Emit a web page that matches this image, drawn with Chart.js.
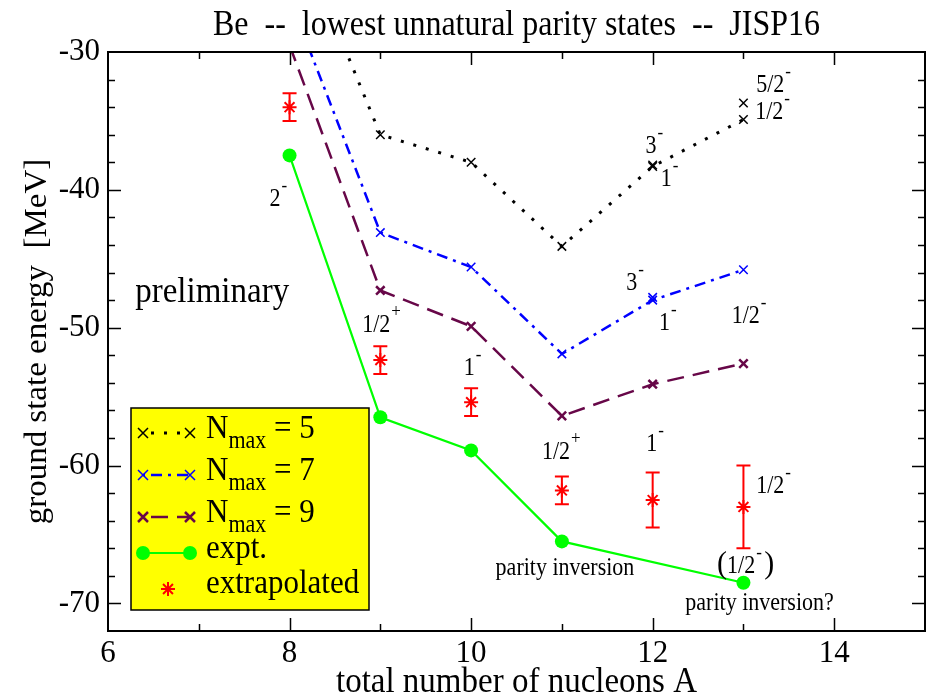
<!DOCTYPE html>
<html>
<head>
<meta charset="utf-8">
<script src="https://cdn.jsdelivr.net/npm/chart.js@4/dist/chart.umd.min.js"></script>
<style>
  html, body { margin: 0; padding: 0; background: #ffffff; }
  canvas { display: block; }
</style>
</head>
<body>
<canvas id="chart" width="934" height="696"></canvas>
<script>
// Mass numbers of the Be isotopes
const massNumbers = [8, 9, 10, 11, 12, 13];

// Lowest unnatural-parity state energies (MeV), JISP16, per basis truncation
const nmax5 = [-20.0, -36.0, -38.0, -44.1, -38.3, -34.9];
const nmax7 = [-26.1, -43.1, -45.6, -51.9, -48.0, -45.8];
const nmax9 = [-29.5, -47.3, -49.9, -56.4, -54.1, -52.6];

// Nearly degenerate companion states (shown as markers only)
const nmax5ExtraA = [12, 13];
const nmax5ExtraE = [-38.2, -33.7];
const nmax7ExtraA = [12];
const nmax7ExtraE = [-47.8];

// Experimental energies
const exptA = [8, 9, 10, 11, 13];
const exptE = [-37.5, -56.5, -58.9, -65.5, -68.5];

// Extrapolated energies and their uncertainties (MeV)
const extrapE = [-34.0, -52.35, -55.4, -61.8, -62.5, -63.0];
const extrapErr = [1.0, 1.0, 1.0, 1.0, 2.0, 3.0];

// Axis ranges and tick steps
const xRange = [6, 15];
const yRange = [-72, -30];
const xTickStep = 2;
const yTickStep = 10;

// Spin-parity annotations, anchored in data units (A, MeV)
const stateLabels = [
  { text: '2',   sup: '-', a: 7.78,  e: -41.17 },
  { text: '5/2', sup: '-', a: 13.14, e: -32.9 },
  { text: '1/2', sup: '-', a: 13.13, e: -34.86 },
  { text: '3',   sup: '-', a: 11.92, e: -37.32 },
  { text: '1',   sup: '-', a: 12.09, e: -39.72 },
  { text: '3',   sup: '-', a: 11.71, e: -47.26 },
  { text: '1',   sup: '-', a: 12.07, e: -50.16 },
  { text: '1/2', sup: '-', a: 12.87, e: -49.65 },
  { text: '1/2', sup: '+', a: 8.80,  e: -50.30 },
  { text: '1',   sup: '-', a: 9.92,  e: -53.42 },
  { text: '1/2', sup: '+', a: 10.78, e: -59.51 },
  { text: '1',   sup: '-', a: 11.93, e: -58.93 },
  { text: '1/2', sup: '-', a: 13.14, e: -61.98 }
];
const notes = [
  { text: 'parity inversion',  a: 10.27, e: -67.93, size: 22 },
  { text: 'parity inversion?', a: 12.36, e: -70.46, size: 22 },
  { text: 'preliminary',       a: 6.30,  e: -48.13, size: 33 }
];
const bracketLabel = { text: '1/2', sup: '-', a: 12.82, e: -67.78 };

const titleText = 'Be  --  lowest unnatural parity states  --  JISP16';
const xTitle = 'total number of nucleons A';
const yTitle = 'ground state energy  [MeV]';

const serif = "'Liberation Serif', 'Times New Roman', serif";
const TEXT_STRETCH = 1.1;

const COLORS = {
  n5: '#000000',
  n7: '#0000ff',
  n9: '#670748',
  expt: '#00ff00',
  extrap: '#ff0000'
};
const DASH = {
  n5: [3, 10],
  n7: [11, 6, 3, 6],
  n9: [17, 9]
};
const LINE_WIDTH = { n5: 3, n7: 2.5, n9: 2.5 };

const pts = (xs, ys) => xs.map((x, i) => ({ x, y: ys[i] }));

function drawText(ctx, str, x, y, size, opts = {}) {
  ctx.save();
  ctx.font = `${size}px ${serif}`;
  ctx.textAlign = opts.align || 'left';
  ctx.textBaseline = 'alphabetic';
  ctx.fillStyle = opts.color || '#000';
  ctx.translate(x, y);
  if (opts.rotate) ctx.rotate(opts.rotate);
  const sx = opts.sx || 1;
  const sy = opts.sy || TEXT_STRETCH;
  ctx.scale(sx, sy);
  ctx.fillText(str, 0, 0);
  const w = ctx.measureText(str).width * sx;
  ctx.restore();
  return w;
}

function drawWithSup(ctx, text, sup, x, y) {
  const w = drawText(ctx, text, x, y, 22);
  drawText(ctx, sup, x + w + 1, y - 15, 17);
  return w + 1 + (sup === '+' ? 10 : 6);
}

// Frame with inward major and minor ticks on all four sides
const framePlugin = {
  id: 'frame',
  afterDatasetsDraw(chart) {
    const { ctx, chartArea: ca, scales: { x, y } } = chart;
    ctx.save();
    ctx.strokeStyle = '#000';
    ctx.lineWidth = 1.5;
    ctx.beginPath();
    for (let a = xRange[0] + 1; a < xRange[1]; a += 1) {
      const px = Math.round(x.getPixelForValue(a)) + 0.5;
      const len = a % 2 === 0 ? 13 : 7;
      ctx.moveTo(px, ca.bottom); ctx.lineTo(px, ca.bottom - len);
      ctx.moveTo(px, ca.top); ctx.lineTo(px, ca.top + len);
    }
    for (let e = yRange[0] + 2; e < yRange[1]; e += 2) {
      const py = Math.round(y.getPixelForValue(e)) + 0.5;
      const len = e % 10 === 0 ? 13 : 7;
      ctx.moveTo(ca.left, py); ctx.lineTo(ca.left + len, py);
      ctx.moveTo(ca.right, py); ctx.lineTo(ca.right - len, py);
    }
    ctx.stroke();
    ctx.lineWidth = 2;
    ctx.strokeRect(ca.left, ca.top, ca.right - ca.left, ca.bottom - ca.top);
    ctx.restore();
  }
};

// Error bars for the extrapolated energies
const errorBarPlugin = {
  id: 'errorBars',
  afterDatasetsDraw(chart) {
    const { ctx, scales: { x, y } } = chart;
    ctx.save();
    ctx.strokeStyle = COLORS.extrap;
    ctx.lineWidth = 2;
    ctx.beginPath();
    massNumbers.forEach((a, i) => {
      const px = x.getPixelForValue(a);
      const yt = y.getPixelForValue(extrapE[i] + extrapErr[i]);
      const yb = y.getPixelForValue(extrapE[i] - extrapErr[i]);
      ctx.moveTo(px, yt); ctx.lineTo(px, yb);
      ctx.moveTo(px - 7, yt); ctx.lineTo(px + 7, yt);
      ctx.moveTo(px - 7, yb); ctx.lineTo(px + 7, yb);
    });
    ctx.stroke();
    ctx.restore();
  }
};

// Title, axis titles, state labels, notes and the legend box
const textPlugin = {
  id: 'texts',
  afterDraw(chart) {
    const { ctx, chartArea: ca, scales: { x, y } } = chart;
    const cx = (ca.left + ca.right) / 2;
    drawText(ctx, titleText, cx, 35, 32, { align: 'center' });
    drawText(ctx, xTitle, cx, 692, 33, { align: 'center' });
    drawText(ctx, yTitle, 46, (ca.top + ca.bottom) / 2, 32,
      { align: 'center', rotate: -Math.PI / 2, sx: 1.03, sy: 1 });

    stateLabels.forEach(l => {
      drawWithSup(ctx, l.text, l.sup, x.getPixelForValue(l.a), y.getPixelForValue(l.e));
    });
    notes.forEach(n => {
      drawText(ctx, n.text, x.getPixelForValue(n.a), y.getPixelForValue(n.e), n.size);
    });
    // "(1/2-)" with larger parentheses
    {
      const bx = x.getPixelForValue(bracketLabel.a);
      const by = y.getPixelForValue(bracketLabel.e);
      drawText(ctx, '(', bx - 10, by, 30, { sy: 1.05 });
      const w = drawWithSup(ctx, bracketLabel.text, bracketLabel.sup, bx, by);
      drawText(ctx, ')', bx + w + 2, by, 30, { sy: 1.05 });
    }

    // Legend
    const box = { x: 131, y: 408, w: 238, h: 202 };
    ctx.save();
    ctx.fillStyle = '#ffff00';
    ctx.fillRect(box.x, box.y, box.w, box.h);
    ctx.strokeStyle = '#000';
    ctx.lineWidth = 1.5;
    ctx.strokeRect(box.x, box.y, box.w, box.h);
    ctx.restore();

    const x0 = 143, x1 = 190, tx = 206;
    const rows = [
      { key: 'n5', cy: 433, label: '5', pw: 1.5 },
      { key: 'n7', cy: 475, label: '7', pw: 1.5 },
      { key: 'n9', cy: 517, label: '9', pw: 2.5 }
    ];
    rows.forEach(r => {
      ctx.save();
      ctx.strokeStyle = COLORS[r.key];
      ctx.lineWidth = LINE_WIDTH[r.key];
      ctx.setLineDash(DASH[r.key]);
      ctx.lineDashOffset = -8;
      ctx.beginPath();
      ctx.moveTo(x0, r.cy); ctx.lineTo(x1, r.cy);
      ctx.stroke();
      ctx.setLineDash([]);
      ctx.lineWidth = r.pw;
      ctx.beginPath();
      [x0, x1].forEach(px => {
        ctx.moveTo(px - 5, r.cy - 5); ctx.lineTo(px + 5, r.cy + 5);
        ctx.moveTo(px - 5, r.cy + 5); ctx.lineTo(px + 5, r.cy - 5);
      });
      ctx.stroke();
      ctx.restore();
      const base = r.cy + 5;
      const wN = drawText(ctx, 'N', tx, base, 31);
      drawText(ctx, 'max', tx + wN, base + 10, 22);
      drawText(ctx, '= ' + r.label, 274, base, 31);
    });
    // expt. row
    ctx.save();
    ctx.strokeStyle = COLORS.expt;
    ctx.fillStyle = COLORS.expt;
    ctx.lineWidth = 2;
    ctx.beginPath();
    ctx.moveTo(x0, 553); ctx.lineTo(x1, 553);
    ctx.stroke();
    [x0, x1].forEach(px => {
      ctx.beginPath();
      ctx.arc(px, 553, 7, 0, Math.PI * 2);
      ctx.fill();
    });
    ctx.restore();
    drawText(ctx, 'expt.', tx, 558, 31);
    // extrapolated row
    ctx.save();
    ctx.strokeStyle = COLORS.extrap;
    ctx.lineWidth = 2;
    ctx.beginPath();
    const sx = 168, sy = 589, r = 7;
    ctx.moveTo(sx - r, sy); ctx.lineTo(sx + r, sy);
    ctx.moveTo(sx, sy - r); ctx.lineTo(sx, sy + r);
    const d = r * Math.SQRT1_2;
    ctx.moveTo(sx - d, sy - d); ctx.lineTo(sx + d, sy + d);
    ctx.moveTo(sx - d, sy + d); ctx.lineTo(sx + d, sy - d);
    ctx.stroke();
    ctx.restore();
    drawText(ctx, 'extrapolated', tx, 593, 31);
  }
};

const lineSet = (label, data, key, pointWidth) => ({
  label,
  data,
  borderColor: COLORS[key],
  backgroundColor: COLORS[key],
  borderWidth: LINE_WIDTH[key],
  borderDash: DASH[key],
  pointStyle: 'crossRot',
  pointRadius: 6,
  pointBorderWidth: pointWidth,
  pointBorderColor: COLORS[key],
  tension: 0,
  clip: 0
});

const markerSet = (data, key, pointWidth) => ({
  label: '',
  data,
  showLine: false,
  borderColor: COLORS[key],
  backgroundColor: COLORS[key],
  pointStyle: 'crossRot',
  pointRadius: 6,
  pointBorderWidth: pointWidth,
  clip: 0
});

new Chart(document.getElementById('chart'), {
  type: 'line',
  data: {
    datasets: [
      lineSet('Nmax = 5', pts(massNumbers, nmax5), 'n5', 1.5),
      markerSet(pts(nmax5ExtraA, nmax5ExtraE), 'n5', 1.5),
      lineSet('Nmax = 7', pts(massNumbers, nmax7), 'n7', 1.5),
      markerSet(pts(nmax7ExtraA, nmax7ExtraE), 'n7', 1.5),
      lineSet('Nmax = 9', pts(massNumbers, nmax9), 'n9', 2.5),
      {
        label: 'expt.',
        data: pts(exptA, exptE),
        borderColor: COLORS.expt,
        backgroundColor: COLORS.expt,
        borderWidth: 2.2,
        pointStyle: 'circle',
        pointRadius: 7,
        pointBorderWidth: 0,
        tension: 0,
        clip: 0
      },
      {
        label: 'extrapolated',
        data: pts(massNumbers, extrapE),
        showLine: false,
        borderColor: COLORS.extrap,
        backgroundColor: COLORS.extrap,
        pointStyle: 'star',
        pointRadius: 7,
        pointBorderWidth: 2,
        clip: 0
      }
    ]
  },
  options: {
    responsive: false,
    animation: false,
    devicePixelRatio: 1,
    layout: { padding: { top: 52, right: 7, left: 0, bottom: 0 } },
    plugins: {
      legend: { display: false },
      tooltip: { enabled: false },
      title: { display: false }
    },
    scales: {
      x: {
        type: 'linear',
        min: xRange[0],
        max: xRange[1],
        grid: { display: false, drawTicks: false },
        border: { display: false },
        ticks: {
          stepSize: xTickStep,
          includeBounds: false,
          color: '#000',
          padding: 4,
          font: { family: serif, size: 31 },
          maxRotation: 0
        },
        afterFit(scale) { scale.height = 65; }
      },
      y: {
        type: 'linear',
        min: yRange[0],
        max: yRange[1],
        grid: { display: false, drawTicks: false },
        border: { display: false },
        ticks: {
          stepSize: yTickStep,
          includeBounds: false,
          color: '#000',
          padding: 8,
          font: { family: serif, size: 31 }
        },
        afterFit(scale) { scale.width = 108; }
      }
    }
  },
  plugins: [errorBarPlugin, framePlugin, textPlugin]
});
</script>
</body>
</html>
